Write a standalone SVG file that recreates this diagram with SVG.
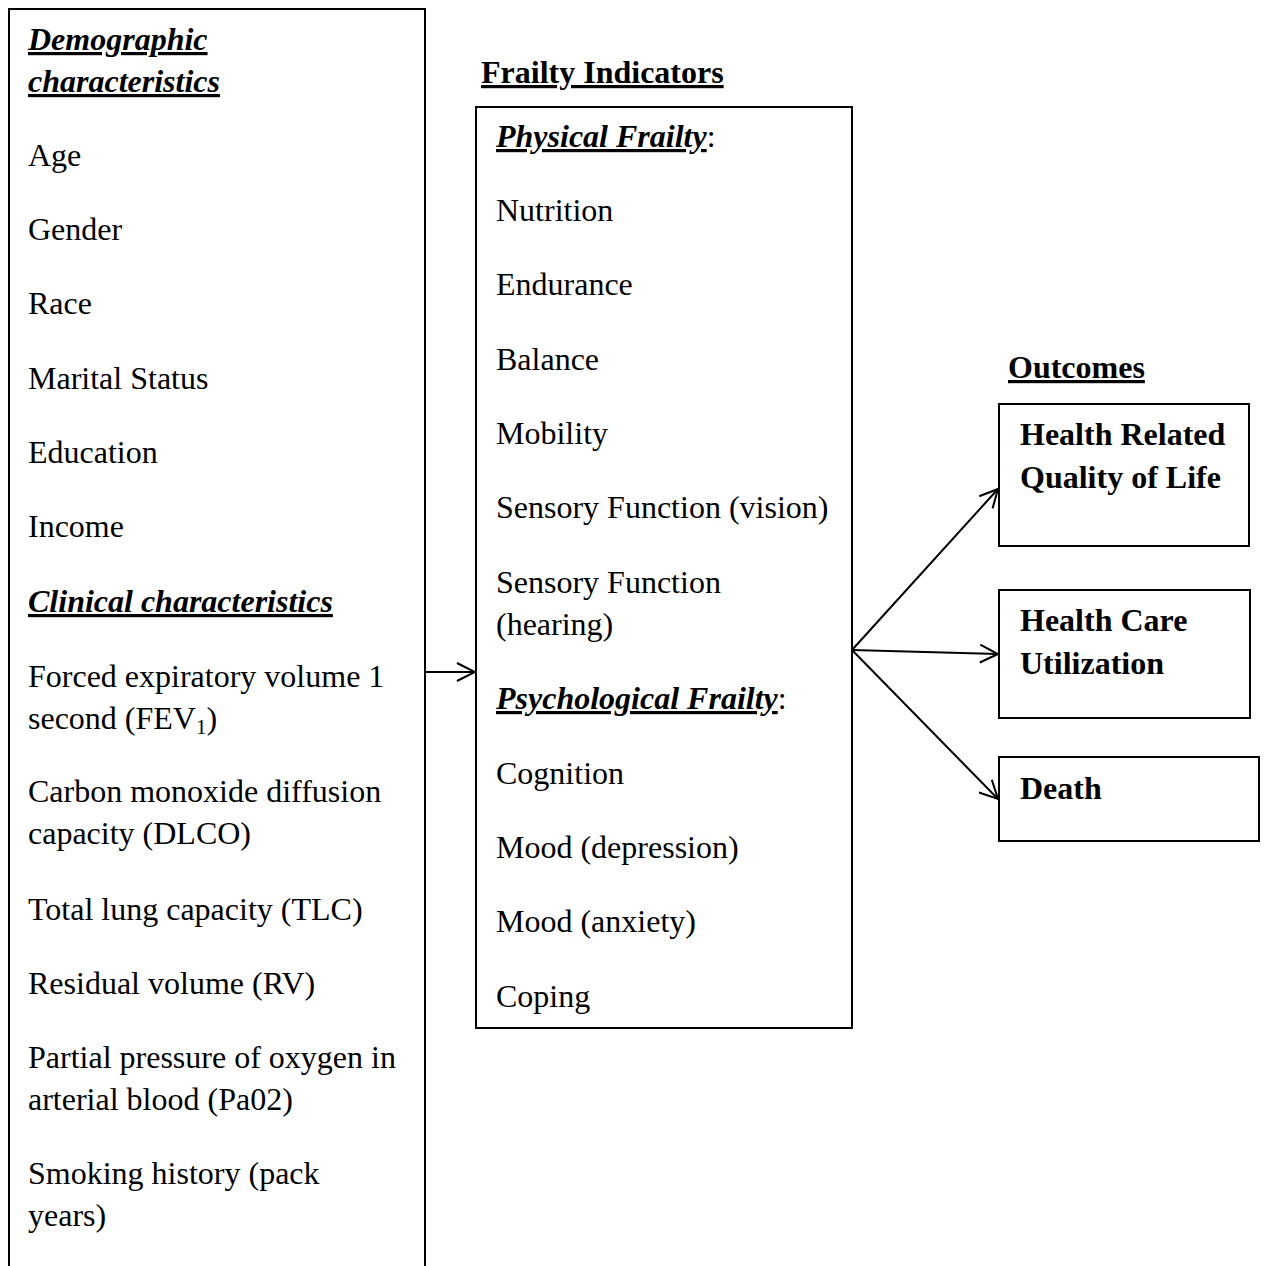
<svg xmlns="http://www.w3.org/2000/svg" width="1265" height="1266" viewBox="0 0 1265 1266">
<style>
text{font-family:"Liberation Serif","Times New Roman",serif;font-size:32px;fill:#000}
.h{font-weight:bold;text-decoration:underline}
.hi{font-weight:bold;font-style:italic;text-decoration:underline}
.b{font-weight:bold}
.box{fill:#fff;stroke:#000;stroke-width:2}
.con{stroke:#000;stroke-width:2;fill:none;marker-end:url(#ah)}
</style>
<defs>
<marker id="ah" viewBox="0 0 20 20" refX="19" refY="10" markerWidth="20" markerHeight="20" markerUnits="userSpaceOnUse" orient="auto">
<path d="M1,1 L19,10 L1,19" fill="none" stroke="#000" stroke-width="2"/>
</marker>
</defs>
<rect width="1265" height="1266" fill="#fff"/>
<g id="demographics">
<path class="box" d="M9,1266 V9 H425 V1266"/>
<text x="28" y="50" class="hi">Demographic</text>
<text x="28" y="92" class="hi">characteristics</text>
<text x="28" y="166">Age</text>
<text x="28" y="240">Gender</text>
<text x="28" y="314">Race</text>
<text x="28" y="389">Marital Status</text>
<text x="28" y="463">Education</text>
<text x="28" y="537">Income</text>
<text x="28" y="612" class="hi">Clinical characteristics</text>
<text x="28" y="687">Forced expiratory volume 1</text>
<text x="28" y="729">second (FEV<tspan font-size="21" dy="5">1</tspan><tspan dy="-5">)</tspan></text>
<text x="28" y="802">Carbon monoxide diffusion</text>
<text x="28" y="844">capacity (DLCO)</text>
<text x="28" y="920">Total lung capacity (TLC)</text>
<text x="28" y="994">Residual volume (RV)</text>
<text x="28" y="1068">Partial pressure of oxygen in</text>
<text x="28" y="1110">arterial blood (Pa02)</text>
<text x="28" y="1184">Smoking history (pack</text>
<text x="28" y="1226">years)</text>
</g>
<g id="frailty">
<text x="481" y="83" class="h">Frailty Indicators</text>
<rect class="box" x="476" y="107" width="376" height="921"/>
<text x="496" y="147"><tspan class="hi">Physical Frailty</tspan>:</text>
<text x="496" y="221">Nutrition</text>
<text x="496" y="295">Endurance</text>
<text x="496" y="370">Balance</text>
<text x="496" y="444">Mobility</text>
<text x="496" y="518">Sensory Function (vision)</text>
<text x="496" y="593">Sensory Function</text>
<text x="496" y="635">(hearing)</text>
<text x="496" y="709"><tspan class="hi">Psychological Frailty</tspan>:</text>
<text x="496" y="784">Cognition</text>
<text x="496" y="858">Mood (depression)</text>
<text x="496" y="932">Mood (anxiety)</text>
<text x="496" y="1007">Coping</text>
</g>
<g id="outcomes-label">
<text x="1008" y="378" class="h">Outcomes</text>
</g>
<g id="hrqol">
<rect class="box" x="999" y="404" width="250" height="142"/>
<text x="1020" y="445" class="b">Health Related</text>
<text x="1020" y="488" class="b">Quality of Life</text>
</g>
<g id="hcu">
<rect class="box" x="999" y="590" width="251" height="128"/>
<text x="1020" y="631" class="b">Health Care</text>
<text x="1020" y="674" class="b">Utilization</text>
</g>
<g id="death">
<rect class="box" x="999" y="757" width="260" height="84"/>
<text x="1020" y="799" class="b">Death</text>
</g>
<g id="connectors">
<line class="con" x1="425" y1="672" x2="475" y2="672"/>
<line class="con" x1="852" y1="650" x2="998" y2="489"/>
<line class="con" x1="852" y1="650" x2="998" y2="654"/>
<line class="con" x1="852" y1="650" x2="998" y2="799"/>
</g>
</svg>
